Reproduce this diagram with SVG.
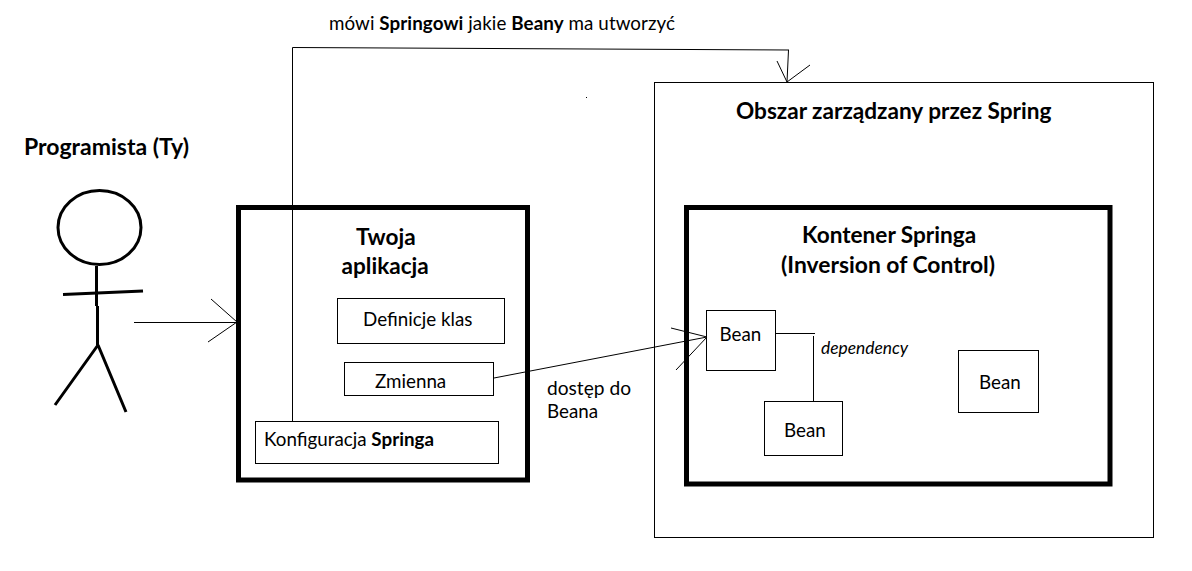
<svg xmlns="http://www.w3.org/2000/svg" width="1192" height="571" viewBox="0 0 1192 571">
<style>
text{font-family:Lato,"Liberation Sans",sans-serif;fill:#000;font-size:18.800px}
.h{font-size:22.600px;font-weight:700}
.b{font-weight:700}
.i{font-style:italic;font-size:17.400px}
.box{fill:none;stroke:#000;stroke-width:1}
.thick{fill:none;stroke:#000;stroke-width:5}
.fig{fill:none;stroke:#000;stroke-width:3}
.con{fill:none;stroke:#000;stroke-width:1}
</style>
<rect width="1192" height="571" fill="#fff"/>
<g id="programista">
<ellipse class="fig" cx="99.500" cy="227.500" rx="41.500" ry="37"/>
<path class="fig" d="M96.500 266V306M97.500 306V345"/>
<path class="fig" d="M63 294.500L143 291"/>
<path class="fig" d="M98 345L55 405M98 345L126 412"/>
<text class="h" x="24" y="155" textLength="165" lengthAdjust="spacingAndGlyphs">Programista (Ty)</text>
</g>
<g id="obszar">
<rect class="box" x="654.500" y="82.500" width="499" height="455"/>
<text class="h" x="736" y="119">Obszar zarządzany przez Spring</text>
</g>
<g id="aplikacja">
<rect class="thick" x="238.500" y="207.500" width="289" height="272.500"/>
<text class="h" x="356" y="244.500">Twoja</text>
<text class="h" x="341.500" y="273.500">aplikacja</text>
</g>
<g id="definicje">
<rect class="box" x="337.500" y="298.500" width="167" height="45"/>
<text x="363" y="326">Definicje klas</text>
</g>
<g id="zmienna">
<rect class="box" x="344.500" y="362.500" width="149" height="33"/>
<text x="375" y="388">Zmienna</text>
</g>
<g id="konfiguracja">
<rect class="box" x="255.500" y="421.500" width="243" height="42"/>
<text x="264" y="446">Konfiguracja <tspan class="b">Springa</tspan></text>
</g>
<g id="kontener">
<rect class="thick" x="686.500" y="207.500" width="423.500" height="276.500"/>
<text class="h" x="802" y="243">Kontener Springa</text>
<text class="h" x="781" y="273" textLength="214" lengthAdjust="spacingAndGlyphs">(Inversion of Control)</text>
</g>
<g id="bean1">
<rect class="box" x="706.500" y="310.500" width="69" height="60"/>
<text x="719.500" y="341">Bean</text>
</g>
<g id="bean2">
<rect class="box" x="764.500" y="401.500" width="78" height="54"/>
<text x="784" y="437">Bean</text>
</g>
<g id="bean3">
<rect class="box" x="958.500" y="350.500" width="80" height="62"/>
<text x="979" y="389">Bean</text>
</g>
<g id="connectors">
<path class="con" d="M292.500 421V47.500L789 50M788.500 50L787 82"/>
<path class="con" d="M777 61L787 82L810 65"/>
<path class="con" d="M134 322.500H237M211 299L237 322L208 342"/>
<path class="con" d="M494 378L707 337"/>
<path class="con" d="M671 328L707 337L676 370"/>
<path class="con" d="M775 333.500H815M813.500 336V401"/>
</g>
<g id="labels">
<text x="329" y="30" textLength="346">mówi <tspan class="b">Springowi</tspan> jakie <tspan class="b">Beany</tspan> ma utworzyć</text>
<text x="547" y="395" textLength="84" lengthAdjust="spacingAndGlyphs">dostęp do</text>
<text x="547" y="418">Beana</text>
<text class="i" x="821" y="354">dependency</text>
</g>
<rect x="586" y="97" width="1" height="1" fill="#000"/>
</svg>
